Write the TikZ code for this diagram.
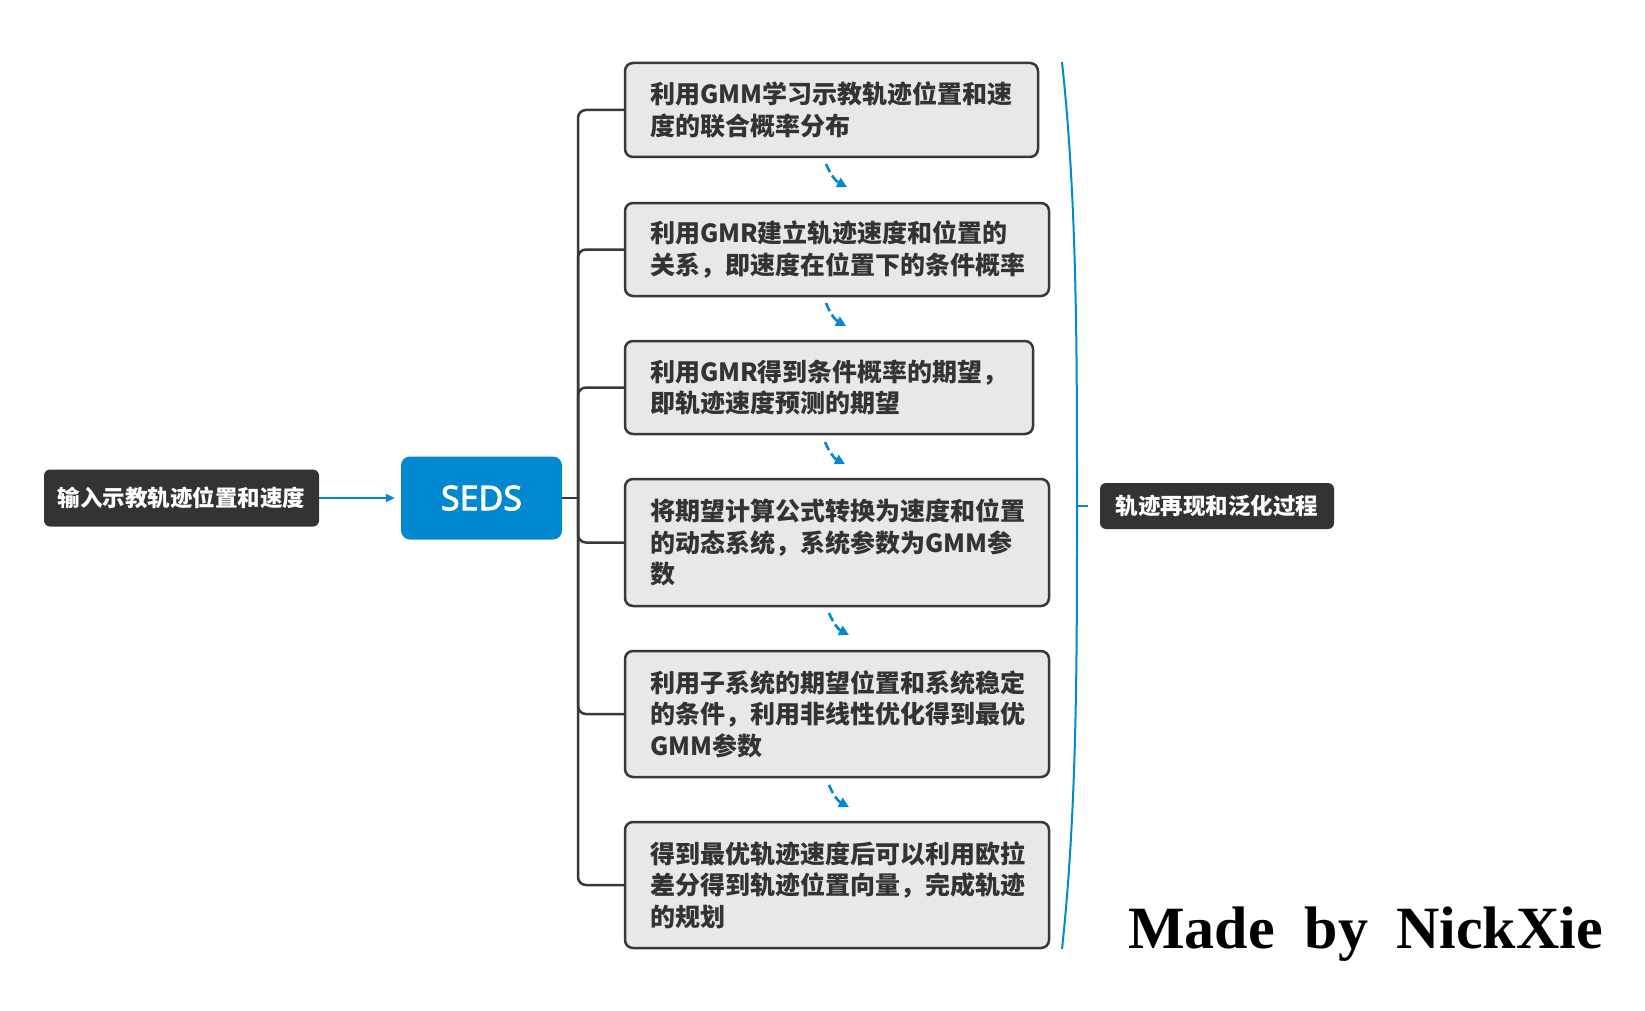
\documentclass[tikz,border=0pt]{standalone}
\usepackage{fontspec}
\setmainfont{Liberation Serif}
\newfontfamily\cjk{Noto Sans CJK SC}
\newfontfamily\sedsfont{Noto Sans}[FakeBold=2.5]
\usetikzlibrary{arrows.meta,calc}
\definecolor{boxfill}{HTML}{E8E8E8}
\definecolor{boxline}{HTML}{383838}
\definecolor{darkfill}{HTML}{333333}
\definecolor{xblue}{HTML}{0288D1}
\definecolor{txt}{HTML}{333333}
\begin{document}
\begin{tikzpicture}[x=1pt,y=-1pt,
  stepbox/.style={draw=boxline, line width=2.5pt, fill=boxfill, rounded corners=8pt,
    text=txt, align=left, inner xsep=25pt, inner ysep=0pt,
    font=\cjk\bfseries\fontsize{25}{31.5}\selectfont},
  darkbox/.style={fill=darkfill, rounded corners=6pt, text=white, inner sep=0pt,
    font=\cjk\bfseries\fontsize{22.5}{27}\selectfont},
  tree/.style={draw=boxline, line width=2.5pt, rounded corners=8pt},
  flow/.style={xblue, line width=2.6pt, dash pattern=on 9pt off 4pt,
    -{Triangle[length=10pt,width=10pt]}},
  blueline/.style={xblue, line width=2pt}]
\useasboundingbox (0,0) rectangle (1645,1011);

% left nodes
\node[darkbox, minimum width=275pt, minimum height=57pt] (inp) at (181.5,498) {输入示教轨迹位置和速度};
\node[fill=xblue, rounded corners=9pt, minimum width=161pt, minimum height=83pt, inner sep=0pt,
  text=white, font=\sedsfont\fontsize{34}{40}\selectfont] (seds) at (481.5,498) {SEDS};
\draw[xblue, line width=2pt, -{Triangle[length=9pt,width=8pt]}, shorten >=6pt] (inp.east) -- (seds.west);

% step boxes
\node[stepbox, text width=363pt, minimum height=94pt] (b1) at (831.5,110)
  {利用GMM学习示教轨迹位置和速\\度的联合概率分布};
\node[stepbox, text width=374pt, minimum height=93pt] (b2) at (837,249.5)
  {利用GMR建立轨迹速度和位置的\\关系，即速度在位置下的条件概率};
\node[stepbox, text width=358pt, minimum height=93pt] (b3) at (829,387.5)
  {利用GMR得到条件概率的期望，\\即轨迹速度预测的期望};
\node[stepbox, text width=374pt, minimum height=127pt] (b4) at (837,542.5)
  {将期望计算公式转换为速度和位置\\的动态系统，系统参数为GMM参\\数};
\node[stepbox, text width=374pt, minimum height=126pt] (b5) at (837,714)
  {利用子系统的期望位置和系统稳定\\的条件，利用非线性优化得到最优\\GMM参数};
\node[stepbox, text width=374pt, minimum height=126pt] (b6) at (837,885)
  {得到最优轨迹速度后可以利用欧拉\\差分得到轨迹位置向量，完成轨迹\\的规划};

% tree connectors
\coordinate (tj) at (578,498);
\draw[tree] (seds.east) -- (tj);
\foreach \b in {b1,b2,b3,b4,b5,b6}
  \draw[tree] (tj) |- (\b.west);

% dashed flow arrows
\coordinate (a1s) at (826,164); \coordinate (a1e) at (847,187);
\coordinate (a2s) at (826,303); \coordinate (a2e) at (846,326);
\coordinate (a3s) at (825,442); \coordinate (a3e) at (845,464);
\coordinate (a4s) at (829,613); \coordinate (a4e) at (849,635);
\coordinate (a5s) at (829,785); \coordinate (a5e) at (849,807);
\foreach \i in {1,...,5}
  \draw[flow] (a\i s) to[bend right=20] (a\i e);

% summary bracket
\coordinate (bt) at (1062,62);
\coordinate (bm) at (1077,506);
\coordinate (bb) at (1062,949);
\draw[blueline] (bt) .. controls (1077,200) and (1077,350) .. (bm)
  .. controls (1077,660) and (1077,810) .. (bb);
\node[darkbox, minimum width=234pt, minimum height=46pt] (lab) at (1217,506) {轨迹再现和泛化过程};
\draw[blueline, shorten >=12pt] (bm) -- (lab.west);

% signature
\node[anchor=base west, inner sep=0pt, font=\bfseries\fontsize{60}{60}\selectfont] (sig) at (1128,948) {Made\hspace{30pt}by\hspace{28pt}NickXie};
\end{tikzpicture}
\end{document}
